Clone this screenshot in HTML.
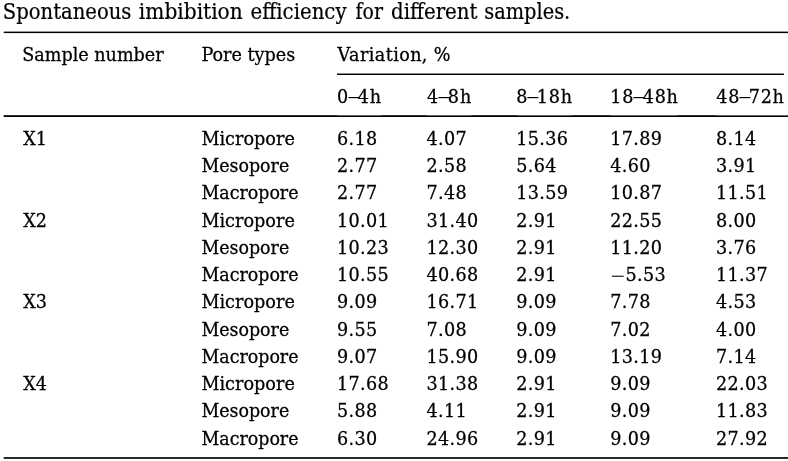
<!DOCTYPE html>
<html lang="en"><head><meta charset="utf-8"><title>Table</title>
<style>
html,body{margin:0;padding:0;background:#fff;}
body{width:788px;height:461px;overflow:hidden;}
svg{display:block;font-family:'DejaVu Serif', 'Liberation Serif', serif;fill:#000;}
text{stroke:#000;stroke-width:0.27px;}
.b{font-size:17.6px;}
.cap{font-size:19.95px;}
.n{letter-spacing:0.35px;}
.mn{font-family:"Liberation Serif",serif;font-size:25.5px;stroke:none;fill:#333;letter-spacing:0;}
.d{font-family:"Liberation Serif",serif;font-size:21.5px;stroke:none;letter-spacing:-1.4px;}
.cap{stroke-width:0.2px;}
.h1{letter-spacing:0.9px;}
.h2{letter-spacing:0.7px;}
.v{letter-spacing:0.4px;}
</style></head><body>
<svg width="788" height="461" viewBox="0 0 788 461">
<text class="cap" transform="translate(0 18.80) scale(1 1.085)"><tspan x="2.79" textLength="128.58" lengthAdjust="spacingAndGlyphs">Spontaneous</tspan> <tspan x="138.87" textLength="103.85" lengthAdjust="spacingAndGlyphs">imbibition</tspan> <tspan x="250.61" textLength="95.94" lengthAdjust="spacingAndGlyphs">efficiency</tspan> <tspan x="355.62" textLength="27.38" lengthAdjust="spacingAndGlyphs">for</tspan> <tspan x="391.01" textLength="86.46" lengthAdjust="spacingAndGlyphs">different</tspan> <tspan x="484.23" textLength="86.06" lengthAdjust="spacingAndGlyphs">samples.</tspan></text>
<rect x="3.70" y="31.60" width="784.30" height="1.50" fill="#000"/>
<rect x="337.00" y="73.55" width="446.90" height="1.45" fill="#000"/>
<rect x="3.70" y="115.40" width="784.30" height="1.60" fill="#000"/>
<rect x="3.70" y="457.00" width="784.30" height="2.00" fill="#2b2b2b"/>
<rect x="3.70" y="115.00" width="333.90" height="0.50" fill="#000"/>
<rect x="381.60" y="115.00" width="45.60" height="0.50" fill="#000"/>
<rect x="471.30" y="115.00" width="45.60" height="0.50" fill="#000"/>
<rect x="571.60" y="115.00" width="39.40" height="0.50" fill="#000"/>
<rect x="677.60" y="115.00" width="39.00" height="0.50" fill="#000"/>
<text class="b" transform="translate(22.20 60.90) scale(1 1.04)">Sample number</text>
<text class="b" transform="translate(201.40 60.90) scale(1 1.04)">Pore types</text>
<text class="b v" transform="translate(337.60 60.90) scale(1 1.04)">Variation, %</text>
<text class="b h1" transform="translate(337.00 102.80) scale(1 1.04)">0<tspan class="d" dx="-0.7">–</tspan>4h</text>
<text class="b h1" transform="translate(427.10 102.80) scale(1 1.04)">4<tspan class="d" dx="-0.7">–</tspan>8h</text>
<text class="b h2" transform="translate(516.30 102.80) scale(1 1.04)">8<tspan class="d" dx="-0.7">–</tspan>18h</text>
<text class="b h2" transform="translate(610.30 102.80) scale(1 1.04)">18<tspan class="d" dx="-0.7">–</tspan>48h</text>
<text class="b h2" transform="translate(716.30 102.80) scale(1 1.04)">48<tspan class="d" dx="-0.7">–</tspan>72h</text>
<text class="b" transform="translate(23.20 145.00) scale(1 1.04)">X1</text>
<text class="b" transform="translate(201.40 145.00) scale(1.0036 1.04)">Micropore</text>
<text class="b n" transform="translate(337.00 145.00) scale(1 1.04)">6.18</text>
<text class="b n" transform="translate(426.50 145.00) scale(1 1.04)">4.07</text>
<text class="b n" transform="translate(516.30 145.00) scale(1 1.04)">15.36</text>
<text class="b n" transform="translate(610.30 145.00) scale(1 1.04)">17.89</text>
<text class="b n" transform="translate(716.00 145.00) scale(1 1.04)">8.14</text>
<text class="b" transform="translate(201.40 172.24) scale(0.9906 1.04)">Mesopore</text>
<text class="b n" transform="translate(337.00 172.24) scale(1 1.04)">2.77</text>
<text class="b n" transform="translate(426.50 172.24) scale(1 1.04)">2.58</text>
<text class="b n" transform="translate(516.30 172.24) scale(1 1.04)">5.64</text>
<text class="b n" transform="translate(610.30 172.24) scale(1 1.04)">4.60</text>
<text class="b n" transform="translate(716.00 172.24) scale(1 1.04)">3.91</text>
<text class="b" transform="translate(201.40 199.48) scale(0.9915 1.04)">Macropore</text>
<text class="b n" transform="translate(337.00 199.48) scale(1 1.04)">2.77</text>
<text class="b n" transform="translate(426.50 199.48) scale(1 1.04)">7.48</text>
<text class="b n" transform="translate(516.30 199.48) scale(1 1.04)">13.59</text>
<text class="b n" transform="translate(610.30 199.48) scale(1 1.04)">10.87</text>
<text class="b n" transform="translate(716.00 199.48) scale(1 1.04)">11.51</text>
<text class="b" transform="translate(23.20 226.72) scale(1 1.04)">X2</text>
<text class="b" transform="translate(201.40 226.72) scale(1.0036 1.04)">Micropore</text>
<text class="b n" transform="translate(337.00 226.72) scale(1 1.04)">10.01</text>
<text class="b n" transform="translate(426.50 226.72) scale(1 1.04)">31.40</text>
<text class="b n" transform="translate(516.30 226.72) scale(1 1.04)">2.91</text>
<text class="b n" transform="translate(610.30 226.72) scale(1 1.04)">22.55</text>
<text class="b n" transform="translate(716.00 226.72) scale(1 1.04)">8.00</text>
<text class="b" transform="translate(201.40 253.96) scale(0.9906 1.04)">Mesopore</text>
<text class="b n" transform="translate(337.00 253.96) scale(1 1.04)">10.23</text>
<text class="b n" transform="translate(426.50 253.96) scale(1 1.04)">12.30</text>
<text class="b n" transform="translate(516.30 253.96) scale(1 1.04)">2.91</text>
<text class="b n" transform="translate(610.30 253.96) scale(1 1.04)">11.20</text>
<text class="b n" transform="translate(716.00 253.96) scale(1 1.04)">3.76</text>
<text class="b" transform="translate(201.40 281.20) scale(0.9915 1.04)">Macropore</text>
<text class="b n" transform="translate(337.00 281.20) scale(1 1.04)">10.55</text>
<text class="b n" transform="translate(426.50 281.20) scale(1 1.04)">40.68</text>
<text class="b n" transform="translate(516.30 281.20) scale(1 1.04)">2.91</text>
<text class="b n" transform="translate(610.30 281.20) scale(1 1.04)"><tspan class="mn" dx="0.5" dy="3.3">−</tspan><tspan dx="0.3" dy="-3.3">5.53</tspan></text>
<text class="b n" transform="translate(716.00 281.20) scale(1 1.04)">11.37</text>
<text class="b" transform="translate(23.20 308.44) scale(1 1.04)">X3</text>
<text class="b" transform="translate(201.40 308.44) scale(1.0036 1.04)">Micropore</text>
<text class="b n" transform="translate(337.00 308.44) scale(1 1.04)">9.09</text>
<text class="b n" transform="translate(426.50 308.44) scale(1 1.04)">16.71</text>
<text class="b n" transform="translate(516.30 308.44) scale(1 1.04)">9.09</text>
<text class="b n" transform="translate(610.30 308.44) scale(1 1.04)">7.78</text>
<text class="b n" transform="translate(716.00 308.44) scale(1 1.04)">4.53</text>
<text class="b" transform="translate(201.40 335.68) scale(0.9906 1.04)">Mesopore</text>
<text class="b n" transform="translate(337.00 335.68) scale(1 1.04)">9.55</text>
<text class="b n" transform="translate(426.50 335.68) scale(1 1.04)">7.08</text>
<text class="b n" transform="translate(516.30 335.68) scale(1 1.04)">9.09</text>
<text class="b n" transform="translate(610.30 335.68) scale(1 1.04)">7.02</text>
<text class="b n" transform="translate(716.00 335.68) scale(1 1.04)">4.00</text>
<text class="b" transform="translate(201.40 362.92) scale(0.9915 1.04)">Macropore</text>
<text class="b n" transform="translate(337.00 362.92) scale(1 1.04)">9.07</text>
<text class="b n" transform="translate(426.50 362.92) scale(1 1.04)">15.90</text>
<text class="b n" transform="translate(516.30 362.92) scale(1 1.04)">9.09</text>
<text class="b n" transform="translate(610.30 362.92) scale(1 1.04)">13.19</text>
<text class="b n" transform="translate(716.00 362.92) scale(1 1.04)">7.14</text>
<text class="b" transform="translate(23.20 390.16) scale(1 1.04)">X4</text>
<text class="b" transform="translate(201.40 390.16) scale(1.0036 1.04)">Micropore</text>
<text class="b n" transform="translate(337.00 390.16) scale(1 1.04)">17.68</text>
<text class="b n" transform="translate(426.50 390.16) scale(1 1.04)">31.38</text>
<text class="b n" transform="translate(516.30 390.16) scale(1 1.04)">2.91</text>
<text class="b n" transform="translate(610.30 390.16) scale(1 1.04)">9.09</text>
<text class="b n" transform="translate(716.00 390.16) scale(1 1.04)">22.03</text>
<text class="b" transform="translate(201.40 417.40) scale(0.9906 1.04)">Mesopore</text>
<text class="b n" transform="translate(337.00 417.40) scale(1 1.04)">5.88</text>
<text class="b n" transform="translate(426.50 417.40) scale(1 1.04)">4.11</text>
<text class="b n" transform="translate(516.30 417.40) scale(1 1.04)">2.91</text>
<text class="b n" transform="translate(610.30 417.40) scale(1 1.04)">9.09</text>
<text class="b n" transform="translate(716.00 417.40) scale(1 1.04)">11.83</text>
<text class="b" transform="translate(201.40 444.64) scale(0.9915 1.04)">Macropore</text>
<text class="b n" transform="translate(337.00 444.64) scale(1 1.04)">6.30</text>
<text class="b n" transform="translate(426.50 444.64) scale(1 1.04)">24.96</text>
<text class="b n" transform="translate(516.30 444.64) scale(1 1.04)">2.91</text>
<text class="b n" transform="translate(610.30 444.64) scale(1 1.04)">9.09</text>
<text class="b n" transform="translate(716.00 444.64) scale(1 1.04)">27.92</text>
</svg>
</body></html>
